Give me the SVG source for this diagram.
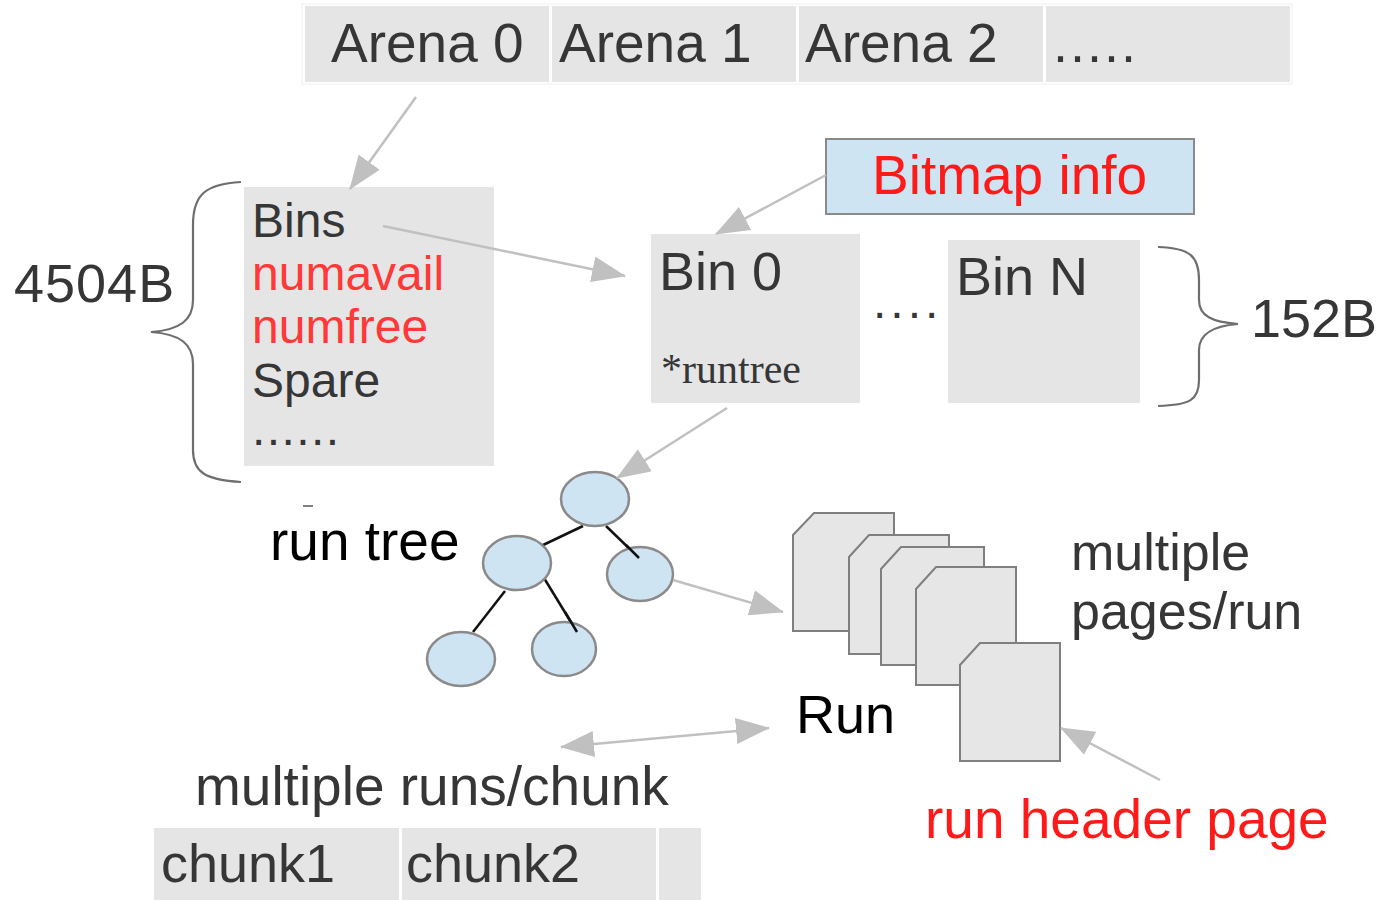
<svg xmlns="http://www.w3.org/2000/svg" width="1379" height="900" viewBox="0 0 1379 900">
  <defs>
    <marker id="head" viewBox="0 0 34 26" refX="33" refY="13" markerWidth="34" markerHeight="26" markerUnits="userSpaceOnUse" orient="auto-start-reverse">
      <path d="M0,0 L34,13 L0,26 z" fill="#c0c0c0"/>
    </marker>
    <style>
      text { font-family: "Liberation Sans", Arial, sans-serif; fill: #363636; }
      .cell { fill: #e5e5e5; }
      .big { font-size: 54px; }
      .mid { font-size: 48px; }
      .red { fill: #ff1a1a; }
      .pink { fill: #ff3838; }
      .blk { fill: #000; }
      .brace { fill: none; stroke: #6e6e6e; stroke-width: 2.2; }
      .arrow { fill: none; stroke: #c0c0c0; stroke-width: 2.5; marker-end: url(#head); }
      .node { fill: #cfe4f2; stroke: #8a8a8a; stroke-width: 2.5; }
      .edge { stroke: #111; stroke-width: 2.5; }
      .page { fill: #e6e6e6; stroke: #7f7f7f; stroke-width: 2; }
    </style>
  </defs>

  <!-- arena table -->
  <g id="arenas">
    <rect x="302" y="4" width="990" height="80" fill="none" stroke="#f0f0f0" stroke-width="1"/>
    <rect class="cell" x="305" y="6" width="244" height="76"/>
    <rect class="cell" x="552" y="6" width="244" height="76"/>
    <rect class="cell" x="799" y="6" width="244" height="76"/>
    <rect class="cell" x="1046" y="6" width="244" height="76"/>
    <text class="big" x="331" y="62" style="font-size:55px">Arena 0</text>
    <text class="big" x="559" y="62" style="font-size:55px">Arena 1</text>
    <text class="big" x="805" y="62" style="font-size:55px">Arena 2</text>
    <text class="big" x="1053" y="62" letter-spacing="2">.....</text>
  </g>

  <!-- arena header fields -->
  <g id="arena-fields">
    <rect class="cell" x="244" y="187" width="250" height="279"/>
    <text class="mid" x="252" y="237">Bins</text>
    <text class="mid pink" x="252" y="290">numavail</text>
    <text class="mid pink" x="252" y="343">numfree</text>
    <text class="mid" x="252" y="397">Spare</text>
    <text class="mid" x="252" y="445" letter-spacing="1.4">......</text>
  </g>

  <g id="size-4504">
    <path class="brace" d="M241,182 C205,184 193,195 193,225 L193,300 C193,320 180,330 151,332 C180,334 193,344 193,364 L193,450 C193,472 205,480 241,482"/>
    <text class="big" x="14" y="302" letter-spacing="1">4504B</text>
  </g>

  <g id="bitmap-info">
    <rect x="826" y="139" width="368" height="75" fill="#cfe4f2" stroke="#8a8a8a" stroke-width="2"/>
    <text class="big red" x="872" y="194" style="font-size:55px">Bitmap info</text>
  </g>

  <g id="bin0">
    <rect class="cell" x="651" y="234" width="209" height="169"/>
    <text class="big" x="659" y="290">Bin 0</text>
    <text x="661" y="383" font-size="42" style="font-family:'Liberation Serif', serif">*runtree</text>
  </g>

  <g id="bin-gap">
    <text class="mid" x="873" y="318" letter-spacing="4">....</text>
  </g>

  <g id="binN">
    <rect class="cell" x="948" y="240" width="192" height="163"/>
    <text class="big" x="956" y="295">Bin N</text>
  </g>

  <g id="size-152">
    <path class="brace" d="M1158,247 C1190,248 1199,256 1199,280 L1199,300 C1199,316 1212,322 1238,324 C1212,326 1199,334 1199,350 L1199,380 C1199,400 1190,405 1158,406"/>
    <text class="big" x="1251" y="337">152B</text>
  </g>

  <!-- run tree -->
  <g id="run-tree">
    <line class="edge" x1="583" y1="526" x2="541" y2="546"/>
    <line class="edge" x1="606" y1="526" x2="639" y2="558"/>
    <line class="edge" x1="505" y1="591" x2="473" y2="632"/>
    <line class="edge" x1="544" y1="578" x2="577" y2="632"/>
    <ellipse class="node" cx="595" cy="499" rx="34" ry="27"/>
    <ellipse class="node" cx="517" cy="563" rx="34" ry="27"/>
    <ellipse class="node" cx="640" cy="574" rx="33" ry="27"/>
    <ellipse class="node" cx="461" cy="659" rx="34" ry="27"/>
    <ellipse class="node" cx="564" cy="649" rx="32" ry="27"/>
    <line class="edge" x1="626" y1="545" x2="639" y2="558"/>
    <line class="edge" x1="565" y1="612" x2="577" y2="632"/>
    <line x1="303" y1="506" x2="313" y2="506" stroke="#555" stroke-width="1.5"/>
    <text class="big blk" x="270" y="560" style="font-size:55px">run tree</text>
  </g>

  <!-- run pages -->
  <g id="run-pages">
    <path class="page" d="M814,513 L894,513 L894,631 L793,631 L793,535 z"/>
    <path class="page" d="M869,535 L949,535 L949,654 L849,654 L849,557 z"/>
    <path class="page" d="M901,547 L984,547 L984,665 L881,665 L881,569 z"/>
    <path class="page" d="M936,567 L1016,567 L1016,685 L916,685 L916,589 z"/>
    <path class="page" d="M980,643 L1060,643 L1060,761 L960,761 L960,665 z"/>
    <text class="big blk" x="796" y="733">Run</text>
    <text class="mid" x="1071" y="570" style="font-size:52px">multiple</text>
    <text class="mid" x="1071" y="629" style="font-size:52px">pages/run</text>
  </g>

  <g id="run-header-label">
    <text class="big red" x="925" y="838" style="font-size:55px">run header page</text>
  </g>

  <!-- chunk table -->
  <g id="chunks">
    <text class="big" x="195" y="805" style="font-size:55px">multiple runs/chunk</text>
    <rect class="cell" x="154" y="828" width="245" height="72"/>
    <rect class="cell" x="402" y="828" width="254" height="72"/>
    <rect class="cell" x="659" y="828" width="42" height="72"/>
    <text class="big" x="161" y="882">chunk1</text>
    <text class="big" x="406" y="882">chunk2</text>
  </g>

  <!-- connectors -->
  <g id="connectors">
    <line class="arrow" x1="416" y1="97" x2="350" y2="189"/>
    <line class="arrow" x1="383" y1="226" x2="625" y2="276"/>
    <line class="arrow" x1="826" y1="175" x2="716" y2="234"/>
    <line class="arrow" x1="727" y1="408" x2="617" y2="478"/>
    <line class="arrow" x1="673" y1="580" x2="783" y2="612"/>
    <line class="arrow" x1="561" y1="747" x2="769" y2="728" style="marker-start:url(#head)"/>
    <line class="arrow" x1="1160" y1="780" x2="1061" y2="728"/>
  </g>
</svg>
